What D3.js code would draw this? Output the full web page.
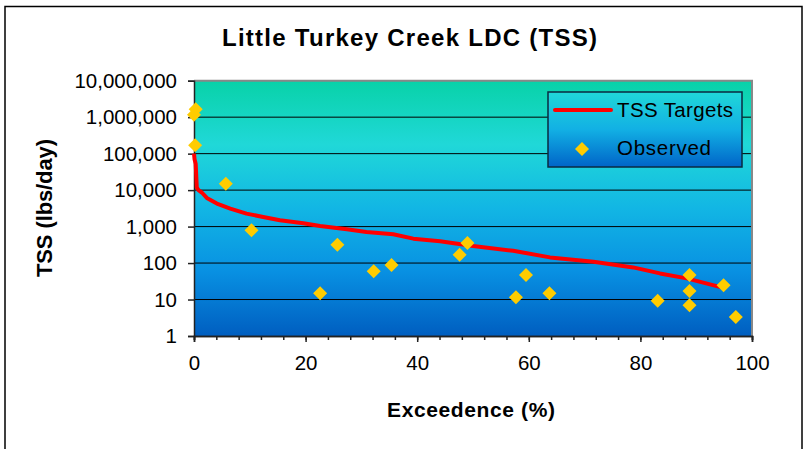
<!DOCTYPE html>
<html>
<head>
<meta charset="utf-8">
<script src="https://cdn.jsdelivr.net/npm/d3@7"></script>
<style>
  body { margin: 0; background: #fff; }
  svg { display: block; font-family: "Liberation Sans", Arial, sans-serif; }
</style>
</head>
<body>
<svg width="807" height="449"></svg>
<script>
// load duration curve target (exceedence %, lbs/day)
var targetPct = [0, 0.1, 0.3, 0.5, 0.8, 1.4, 2.3, 4.1, 6.5, 9.4, 12.4, 15.4, 19.6, 22.6, 27.4, 30.9, 35.7, 39.3, 44.1, 50.0, 57.2, 63.8, 71.6, 78.7, 83.5, 88.3, 94.9]
var targetLoad = [100000, 70000, 53000, 11800, 10000, 8600, 6100, 4270, 3110, 2270, 1830, 1490, 1230, 1040, 844, 711, 615, 467, 397, 293, 217, 143, 108, 76, 52, 38, 20.8]

// observed samples
var obsPct = [0, 0.3, 0.2, 5.7, 10.3, 22.6, 25.7, 32.2, 35.4, 47.6, 49.0, 57.7, 59.5, 63.7, 83.1, 88.8, 88.8, 88.8, 94.9, 97.1]
var obsLoad = [1160000, 1660000, 169000, 14900, 794, 14.9, 318, 60, 88, 169, 353, 11.6, 47, 14.9, 9.2, 47, 17.2, 7.0, 24.7, 3.3]

var yTicks = [1, 10, 100, 1000, 10000, 100000, 1000000, 10000000]
var xTicks = [0, 20, 40, 60, 80, 100]

var svg = d3.select('svg')

// outer chart frame
svg.append('rect')
    .attr('x', 5).attr('y', 6.5)
    .attr('width', 797).attr('height', 470)
    .attr('fill', '#fff')
    .attr('stroke', '#000')
    .attr('stroke-width', 1.5)

var x = d3.scaleLinear().domain([0, 100]).range([194, 752])
var y = d3.scaleLog().domain([1, 1e7]).range([336, 80.7])

var defs = svg.append('defs')
var grad = defs.append('linearGradient')
    .attr('id', 'plotBg').attr('x1', 0).attr('y1', 0).attr('x2', 0).attr('y2', 1)
grad.append('stop').attr('offset', '0%').attr('stop-color', '#08d2a8')
grad.append('stop').attr('offset', '25%').attr('stop-color', '#20d8d8')
grad.append('stop').attr('offset', '50%').attr('stop-color', '#12b6e4')
grad.append('stop').attr('offset', '75%').attr('stop-color', '#0890e2')
grad.append('stop').attr('offset', '100%').attr('stop-color', '#005ec0')

var lgrad = defs.append('linearGradient')
    .attr('id', 'legBg').attr('x1', 0).attr('y1', 0).attr('x2', 0).attr('y2', 1)
lgrad.append('stop').attr('offset', '0%').attr('stop-color', '#20d8d8')
lgrad.append('stop').attr('offset', '50%').attr('stop-color', '#12b0e4')
lgrad.append('stop').attr('offset', '100%').attr('stop-color', '#0064c8')

// plot area
svg.append('rect')
    .attr('x', x(0)).attr('y', y(1e7))
    .attr('width', x(100) - x(0)).attr('height', y(1) - y(1e7))
    .attr('fill', 'url(#plotBg)')

// gridlines
svg.append('g')
    .selectAll('line')
    .data(yTicks.slice(1, -1))
    .enter()
    .append('line')
    .attr('x1', x(0)).attr('x2', x(100))
    .attr('y1', function (d) { return y(d) })
    .attr('y2', function (d) { return y(d) })
    .attr('stroke', '#000')
    .attr('stroke-width', 1)

// top + right border of plot
svg.append('path')
    .attr('d', 'M' + x(0) + ',' + y(1e7) + 'H' + x(100) + 'V' + y(1))
    .attr('fill', 'none')
    .attr('stroke', '#888')
    .attr('stroke-width', 2)

// axes
var yAxis = svg.append('g')
    .attr('transform', 'translate(' + x(0) + ',0)')
    .call(d3.axisLeft(y).tickValues(yTicks).tickFormat(d3.format(',')).tickSize(6).tickPadding(11))
yAxis.selectAll('text').attr('font-size', 20.5).attr('font-family', 'Liberation Sans, Arial').attr('fill', '#000')
yAxis.selectAll('path, line').attr('stroke', '#222').attr('stroke-width', 1.5)

var xMinor = svg.append('g')
    .attr('transform', 'translate(0,' + y(1) + ')')
    .call(d3.axisBottom(x).tickValues(d3.range(0, 101, 4)).tickFormat('').tickSize(4))
xMinor.selectAll('path, line').attr('stroke', '#222').attr('stroke-width', 1.5)

var xAxis = svg.append('g')
    .attr('transform', 'translate(0,' + y(1) + ')')
    .call(d3.axisBottom(x).tickValues(xTicks).tickSize(6).tickPadding(13))
xAxis.selectAll('text').attr('font-size', 20.5).attr('font-family', 'Liberation Sans, Arial').attr('fill', '#000')
xAxis.selectAll('path, line').attr('stroke', '#222').attr('stroke-width', 1.5)

// target curve
var line = d3.line()
    .x(function (d, i) { return x(targetPct[i]) })
    .y(function (d, i) { return y(targetLoad[i]) })

svg.append('path')
    .datum(targetPct)
    .attr('d', line)
    .attr('fill', 'none')
    .attr('stroke', '#ff0000')
    .attr('stroke-width', 4)
    .attr('stroke-linejoin', 'round')

// observed diamonds
function diamond (cx, cy, r) {
    return 'M' + cx + ',' + (cy - r) + 'L' + (cx + r) + ',' + cy + 'L' + cx + ',' + (cy + r) + 'L' + (cx - r) + ',' + cy + 'Z'
}

svg.append('g')
    .selectAll('path')
    .data(obsPct)
    .enter()
    .append('path')
    .attr('d', function (d, i) { return diamond(x(d), y(obsLoad[i]), 7) })
    .attr('fill', '#ffcc00')

// legend
var leg = svg.append('g')
leg.append('rect')
    .attr('x', 548).attr('y', 92)
    .attr('width', 194).attr('height', 75)
    .attr('fill', 'url(#legBg)')
    .attr('stroke', '#0a2a40')
    .attr('stroke-width', 1.5)
leg.append('line')
    .attr('x1', 555).attr('x2', 611).attr('y1', 110).attr('y2', 110)
    .attr('stroke', '#ff0000').attr('stroke-width', 4).attr('stroke-linecap', 'round')
leg.append('path')
    .attr('d', diamond(582, 149, 7))
    .attr('fill', '#ffcc00')
leg.append('text')
    .attr('x', 617).attr('y', 117)
    .attr('font-size', 20.5)
    .attr('textLength', 116).attr('lengthAdjust', 'spacing')
    .text('TSS Targets')
leg.append('text')
    .attr('x', 617).attr('y', 155)
    .attr('font-size', 20.5)
    .attr('textLength', 94).attr('lengthAdjust', 'spacing')
    .text('Observed')

// titles
svg.append('text')
    .attr('x', 222).attr('y', 46)
    .attr('font-size', 24).attr('font-weight', 'bold')
    .attr('textLength', 375).attr('lengthAdjust', 'spacing')
    .text('Little Turkey Creek LDC (TSS)')

svg.append('text')
    .attr('x', 387).attr('y', 417)
    .attr('font-size', 21).attr('font-weight', 'bold')
    .attr('textLength', 168).attr('lengthAdjust', 'spacing')
    .text('Exceedence (%)')

svg.append('text')
    .attr('transform', 'translate(52,277) rotate(-90)')
    .attr('font-size', 22).attr('font-weight', 'bold')
    .attr('textLength', 138).attr('lengthAdjust', 'spacing')
    .text('TSS (lbs/day)')
</script>
</body>
</html>
